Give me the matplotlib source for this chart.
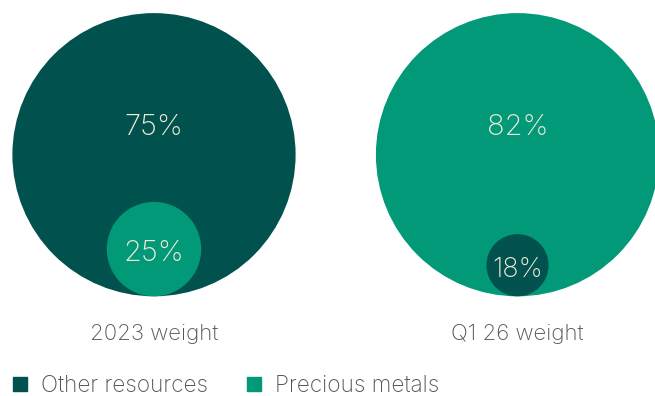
import matplotlib
matplotlib.use("Agg")
import matplotlib.pyplot as plt
from matplotlib.patches import Circle
from matplotlib.lines import Line2D

# ---- data ----
periods = ["2023 weight", "Q1 26 weight"]
series = ["Other resources", "Precious metals"]
other_resources = [75, 18]
precious_metals = [25, 82]

# ---- styles ----
DARK = "#01524F"
LIGHT = "#029978"
TEXT_IN = "#F1ECD6"
TEXT_OUT = "#555555"
colors = {"Other resources": DARK, "Precious metals": LIGHT}

plt.rcParams["font.family"] = ["Inter", "DejaVu Sans"]

W, H = 655, 396
fig = plt.figure(figsize=(W / 100, H / 100), dpi=100)
ax = fig.add_axes([0, 0, 1, 1])
ax.set_xlim(0, W)
ax.set_ylim(H, 0)
ax.set_aspect("equal")
ax.axis("off")

centers_x = [154, 517.5]
bottom_y = 296.3
R = 141.6

for i, period in enumerate(periods):
    vals = {"Other resources": other_resources[i], "Precious metals": precious_metals[i]}
    big_name = max(vals, key=vals.get)
    small_name = min(vals, key=vals.get)
    big_v, small_v = vals[big_name], vals[small_name]
    cx = centers_x[i]
    r_small = R * small_v / big_v
    ax.add_patch(Circle((cx, bottom_y - R), R, color=colors[big_name], lw=0))
    ax.add_patch(Circle((cx, bottom_y - r_small), r_small, color=colors[small_name], lw=0))
    ax.text(cx, 127.5, f"{big_v}%", ha="center", va="center", color=TEXT_IN,
            fontsize=21, fontweight="light")
    ax.text(cx, bottom_y - r_small + 4.5, f"{small_v}%", ha="center", va="center",
            color=TEXT_IN, fontsize=21 if r_small > 40 else 19.5, fontweight="light")
    ax.text(cx, 334, period, ha="center", va="center", color=TEXT_OUT,
            fontsize=16, fontweight="light")

handles = [Line2D([], [], marker="s", linestyle="none", markersize=9.5,
                  markerfacecolor=colors[s], markeredgecolor=colors[s], label=s)
           for s in series]
ax.legend(handles=handles, loc="center left", bbox_to_anchor=(8.5, 386),
          bbox_transform=ax.transData, ncol=2, frameon=False,
          handletextpad=0.42, columnspacing=1.55, handlelength=1.0,
          borderaxespad=0, borderpad=0, labelcolor=TEXT_OUT,
          prop={"weight": "light", "size": 16.3})

fig.savefig("out.png", dpi=100)
